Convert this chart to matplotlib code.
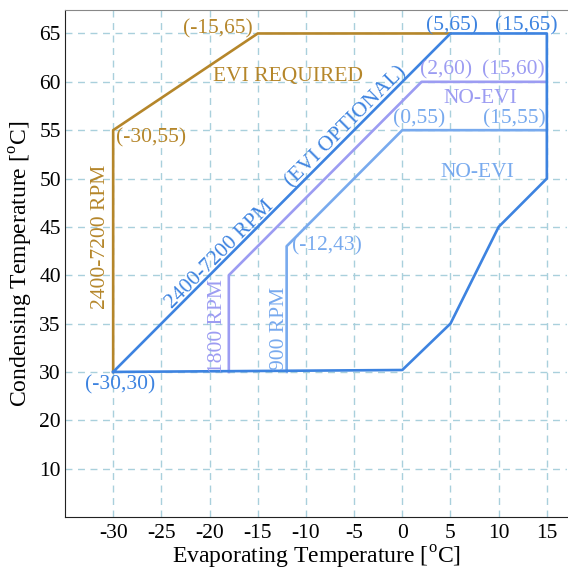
import matplotlib
matplotlib.use("Agg")
import matplotlib.pyplot as plt

plt.rcParams['font.family'] = ['Liberation Serif', 'DejaVu Serif']
plt.rcParams['mathtext.fontset'] = 'custom'
plt.rcParams['mathtext.rm'] = 'Liberation Serif'

# ---- data ----
gold_x = [-30, -30, -15, 5]
gold_y = [30, 55, 65, 65]
outer_x = [-30, 5, 15, 15, 10, 5, 0, -30]
outer_y = [30, 65, 65, 50, 45, 35, 30.2, 30]
rpm1800_x = [-18, -18, 2, 15]
rpm1800_y = [30, 40, 60, 60]
rpm900_x = [-12, -12, 0, 15]
rpm900_y = [30, 43, 55, 55]

x_ticks = [-30, -25, -20, -15, -10, -5, 0, 5, 10, 15]
x_ticklabels = ['-30', '-25', '-20', '-15', '-10', '-5', '0', '5', '10', '15']
y_ticks = [20, 25, 30, 35, 40, 45, 50, 55, 60, 65]
y_ticklabels = ['10', '20', '30', '35', '40', '45', '50', '55', '60', '65']

GOLD = '#b5862a'
BLUE = '#3d83e0'
LAV = '#9c9cf2'
LBLUE = '#78aaee'

fig = plt.figure(figsize=(5.68, 5.70), dpi=100)
ax = fig.add_axes([0.1144, 0.093, 0.884, 0.889])

ax.plot(gold_x, gold_y, color=GOLD, lw=1.9, zorder=3)
ax.plot(rpm900_x, rpm900_y, color=LBLUE, lw=1.9, zorder=3)
ax.plot(rpm1800_x, rpm1800_y, color=LAV, lw=1.9, zorder=3)
ax.plot(outer_x, outer_y, color=BLUE, lw=1.9, zorder=4)

ax.set_xlim(-35, 17.1)
ax.set_ylim(15, 67.4)
ax.set_xticks(x_ticks)
ax.set_xticklabels(x_ticklabels)
ax.set_yticks(y_ticks)
ax.set_yticklabels(y_ticklabels)
ax.tick_params(length=0, labelsize=15.5, pad=5)
ax.tick_params(axis='y', pad=3)

ax.grid(True, color='#a9d0dc', linestyle=(0, (5, 4)), lw=1.0, zorder=0)
ax.set_axisbelow(True)

for s in ['left', 'bottom']:
    ax.spines[s].set_color('#222222')
ax.spines['top'].set_color('#888888')
ax.spines['right'].set_visible(False)

ax.set_xlabel(r'Evaporating Temperature [$^{\rm o}$C]', fontsize=17, labelpad=1)
ax.set_ylabel(r'Condensing Temperature [$^{\rm o}$C]', fontsize=17, labelpad=3)

fs = 15.5
def t(x, y, s, c, rot=0):
    ax.text(x, y, s, color=c, fontsize=fs, ha='center', va='center',
            rotation=rot, rotation_mode='anchor', zorder=5)

t(-19.1, 65.5, '(-15,65)', GOLD)
t(-11.85, 60.5, 'EVI REQUIRED', GOLD)
t(-26.1, 54.25, '(-30,55)', GOLD)
t(-31.35, 44.0, '2400-7200 RPM', GOLD, 90)
t(-29.3, 28.66, '(-30,30)', BLUE)
t(-18.9, 42.1, '2400-7200 RPM', BLUE, 45)
t(-5.8, 55.3, '(EVI OPTIONAL)', BLUE, 45)
t(5.17, 65.8, '(5,65)', BLUE)
t(12.9, 65.8, '(15,65)', BLUE)
t(4.5, 61.2, '(2,60)', LAV)
t(11.5, 61.2, '(15,60)', LAV)
t(8.07, 58.3, 'NO-EVI', LAV)
t(1.74, 56.2, '(0,55)', LBLUE)
t(11.6, 56.2, '(15,55)', LBLUE)
t(7.76, 50.6, 'NO-EVI', LBLUE)
t(-19.2, 34.75, '1800 RPM', LAV, 90)
t(-12.7, 34.5, '900 RPM', LBLUE, 90)
t(-7.8, 43.0, '(-12,43)', LBLUE)

fig.savefig('out.png', dpi=100)
